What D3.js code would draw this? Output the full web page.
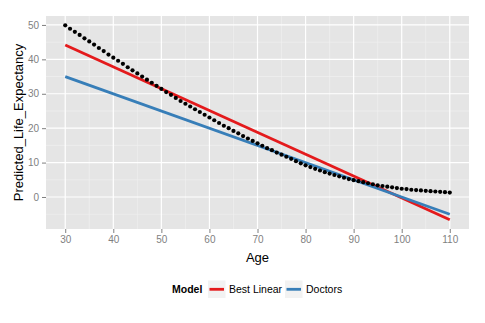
<!DOCTYPE html>
<html>
<head>
<meta charset="UTF-8">
<title>Predicted life expectancy</title>
<script src="https://d3js.org/d3.v7.min.js"></script>
<style>
  body { margin: 0; background: #fff; }
  text { font-family: "Liberation Sans", Arial, sans-serif; }
</style>
</head>
<body>
<div id="chart"></div>
<script>
// remaining years of life by age (table values)
var ages = d3.range(30, 111);
var lifeExpectancy = [
  49.9, 48.9, 48.0, 47.1, 46.1, 45.2, 44.3, 43.3, 42.4, 41.4,
  40.5, 39.6, 38.7, 37.7, 36.8, 35.9, 35.0, 34.1, 33.2, 32.3,
  31.4, 30.5, 29.7, 28.8, 27.9, 27.1, 26.3, 25.5, 24.7, 23.9,
  23.1, 22.3, 21.5, 20.7, 20.0, 19.2, 18.5, 17.7, 17.0, 16.3,
  15.6, 14.9, 14.2, 13.6, 12.9, 12.3, 11.7, 11.1, 10.4, 9.8,
  9.2, 8.7, 8.2, 7.7, 7.2, 6.8, 6.4, 6.0, 5.6, 5.2,
  4.9, 4.6, 4.3, 4.0, 3.7, 3.4, 3.2, 3.0, 2.8, 2.6,
  2.4, 2.3, 2.1, 2.0, 1.9, 1.8, 1.7, 1.6, 1.5, 1.4,
  1.3
];

// model lines, given at their end ages
var modelNames = ["Best Linear", "Doctors"];
var modelAges = [30, 110];
var bestLinear = [44.2, -6.6];
var doctors = [35, -5];

var xTicks = [30, 40, 50, 60, 70, 80, 90, 100, 110];
var yTicks = [0, 10, 20, 30, 40, 50];

var width = 485, height = 323;
var panel = { left: 46, top: 16, right: 469, bottom: 229 };
var colours = ["#E41A1C", "#377EB8"];

var svg = d3.select("#chart").append("svg")
    .attr("width", width)
    .attr("height", height);

var x = d3.scaleLinear().domain([26, 114]).range([panel.left, panel.right]);
var y = d3.scaleLinear().domain([-9.3, 52.6]).range([panel.bottom, panel.top]);

// grey panel
svg.append("rect")
    .attr("x", panel.left).attr("y", panel.top)
    .attr("width", panel.right - panel.left)
    .attr("height", panel.bottom - panel.top)
    .attr("fill", "#E5E5E5");

// minor grid halfway between major ticks
var xMinor = d3.range(35, 115, 10);
var yMinor = d3.range(-5, 55, 10);
svg.append("g").selectAll("line").data(xMinor).enter().append("line")
    .attr("x1", d => x(d)).attr("x2", d => x(d))
    .attr("y1", panel.top).attr("y2", panel.bottom)
    .attr("stroke", "#F2F2F2").attr("stroke-width", 0.6);
svg.append("g").selectAll("line").data(yMinor).enter().append("line")
    .attr("y1", d => y(d)).attr("y2", d => y(d))
    .attr("x1", panel.left).attr("x2", panel.right)
    .attr("stroke", "#F2F2F2").attr("stroke-width", 0.6);

// major grid
svg.append("g").selectAll("line").data(xTicks).enter().append("line")
    .attr("x1", d => x(d)).attr("x2", d => x(d))
    .attr("y1", panel.top).attr("y2", panel.bottom)
    .attr("stroke", "#FFFFFF").attr("stroke-width", 1.2);
svg.append("g").selectAll("line").data(yTicks).enter().append("line")
    .attr("y1", d => y(d)).attr("y2", d => y(d))
    .attr("x1", panel.left).attr("x2", panel.right)
    .attr("stroke", "#FFFFFF").attr("stroke-width", 1.2);

// axes
var xAxis = svg.append("g")
    .attr("transform", "translate(0," + panel.bottom + ")")
    .call(d3.axisBottom(x).tickValues(xTicks).tickSize(4).tickPadding(3));
var yAxis = svg.append("g")
    .attr("transform", "translate(" + panel.left + ",0)")
    .call(d3.axisLeft(y).tickValues(yTicks).tickSize(4).tickPadding(3));
[xAxis, yAxis].forEach(function(a) {
    a.select(".domain").remove();
    a.selectAll(".tick line").attr("stroke", "#7F7F7F");
    a.selectAll(".tick text")
        .attr("fill", "#7F7F7F")
        .attr("font-size", "10px")
        .attr("font-family", "Liberation Sans, Arial, sans-serif");
});

// model lines
var line = d3.line().x(d => x(d[0])).y(d => y(d[1]));
[bestLinear, doctors].forEach(function(vals, i) {
    svg.append("path")
        .datum(modelAges.map((a, j) => [a, vals[j]]))
        .attr("d", line)
        .attr("fill", "none")
        .attr("stroke", colours[i])
        .attr("stroke-width", 2.8);
});

// table points
svg.append("g").selectAll("circle")
    .data(ages.map((a, i) => [a, lifeExpectancy[i]]))
    .enter().append("circle")
    .attr("cx", d => x(d[0]))
    .attr("cy", d => y(d[1]))
    .attr("r", 2.1)
    .attr("fill", "#000");

// axis titles
svg.append("text")
    .attr("x", (panel.left + panel.right) / 2)
    .attr("y", 262)
    .attr("text-anchor", "middle")
    .attr("font-size", "13px")
    .text("Age");
svg.append("text")
    .attr("transform", "translate(23," + (panel.top + panel.bottom) / 2 + ") rotate(-90)")
    .attr("text-anchor", "middle")
    .attr("font-size", "13px")
    .text("Predicted_Life_Expectancy");

// legend
var legend = svg.append("g").attr("transform", "translate(0,289)");
legend.append("text")
    .attr("x", 172).attr("y", 3.5)
    .attr("font-size", "10.5px")
    .attr("font-weight", "bold")
    .text("Model");
var keyX = [208, 285];
modelNames.forEach(function(name, i) {
    legend.append("rect")
        .attr("x", keyX[i]).attr("y", -8.5)
        .attr("width", 17.5).attr("height", 17.5)
        .attr("fill", "#F2F2F2");
    legend.append("line")
        .attr("x1", keyX[i] + 1.5).attr("x2", keyX[i] + 16)
        .attr("y1", 0.3).attr("y2", 0.3)
        .attr("stroke", colours[i])
        .attr("stroke-width", 2.8);
    legend.append("text")
        .attr("x", keyX[i] + 21).attr("y", 3.8)
        .attr("font-size", "10.5px")
        .text(name);
});
</script>
</body>
</html>
